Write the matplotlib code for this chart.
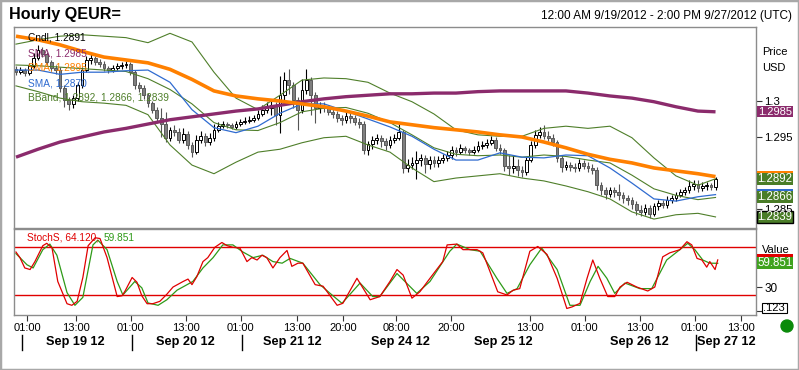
import matplotlib
matplotlib.use("Agg")
import matplotlib.pyplot as plt
import matplotlib.transforms as mtrans
from matplotlib.patches import Rectangle, Ellipse

plt.rcParams['font.family'] = ['Liberation Sans', 'DejaVu Sans']

# ---------------- data ----------------
close = [1.3040, 1.3043, 1.3039, 1.3049, 1.3060, 1.3071, 1.3065, 1.3054, 1.3046, 1.3043,
         1.3018, 1.3001, 1.2996, 1.3004, 1.3022, 1.3043, 1.3057, 1.3060, 1.3054, 1.3051,
         1.3046, 1.3043, 1.3046, 1.3049, 1.3050, 1.3051, 1.3040, 1.3022, 1.3018, 1.3008,
         1.2997, 1.2988, 1.2976, 1.2968, 1.2949, 1.2960, 1.2957, 1.2946, 1.2954, 1.2939,
         1.2929, 1.2946, 1.2951, 1.2943, 1.2949, 1.2960, 1.2965, 1.2968, 1.2967, 1.2964,
         1.2968, 1.2971, 1.2972, 1.2974, 1.2976, 1.2982, 1.2988, 1.2990, 1.2994, 1.2981,
         1.3008, 1.3029, 1.3022, 1.3001, 1.2988, 1.3015, 1.3029, 1.3008, 1.2990, 1.2993,
         1.2990, 1.2985, 1.2982, 1.2976, 1.2974, 1.2979, 1.2976, 1.2971, 1.2968, 1.2932,
         1.2940, 1.2946, 1.2949, 1.2944, 1.2939, 1.2946, 1.2949, 1.2957, 1.2907, 1.2911,
         1.2914, 1.2918, 1.2921, 1.2913, 1.2918, 1.2914, 1.2918, 1.2921, 1.2925, 1.2932,
         1.2929, 1.2935, 1.2932, 1.2929, 1.2932, 1.2938, 1.2939, 1.2942, 1.2946, 1.2935,
         1.2932, 1.2910, 1.2907, 1.2910, 1.2904, 1.2901, 1.2918, 1.2939, 1.2953, 1.2957,
         1.2951, 1.2949, 1.2943, 1.2921, 1.2908, 1.2911, 1.2908, 1.2907, 1.2914, 1.2910,
         1.2907, 1.2904, 1.2883, 1.2876, 1.2871, 1.2876, 1.2874, 1.2870, 1.2865, 1.2863,
         1.2857, 1.2849, 1.2846, 1.2851, 1.2843, 1.2854, 1.2858, 1.2856, 1.2863, 1.2865,
         1.2870, 1.2874, 1.2876, 1.2882, 1.2885, 1.2879, 1.2882, 1.2883, 1.2880, 1.2891]
first_open = 1.3045
high = [1.3049, 1.3047, 1.3046, 1.3053, 1.3066, 1.3078, 1.3075, 1.3068, 1.3057, 1.3050,
        1.3047, 1.3022, 1.3006, 1.3009, 1.3026, 1.3047, 1.3062, 1.3065, 1.3063, 1.3058,
        1.3055, 1.3049, 1.3050, 1.3053, 1.3054, 1.3056, 1.3054, 1.3043, 1.3026, 1.3022,
        1.3011, 1.3000, 1.2992, 1.2990, 1.2985, 1.2964, 1.2966, 1.2962, 1.2962, 1.2958,
        1.2943, 1.2953, 1.2958, 1.2955, 1.2955, 1.2968, 1.2971, 1.2972, 1.2971, 1.2970,
        1.2972, 1.2975, 1.2978, 1.2979, 1.2981, 1.2987, 1.2994, 1.2998, 1.3003, 1.2999,
        1.3035, 1.3040, 1.3045, 1.3026, 1.3006, 1.3030, 1.3045, 1.3033, 1.3012, 1.2999,
        1.2998, 1.2995, 1.2990, 1.2986, 1.2980, 1.2986, 1.2983, 1.2980, 1.2976, 1.2972,
        1.2945, 1.2951, 1.2954, 1.2953, 1.2948, 1.2951, 1.2954, 1.2968, 1.2960, 1.2920,
        1.2922, 1.2930, 1.2927, 1.2925, 1.2924, 1.2923, 1.2923, 1.2926, 1.2930, 1.2937,
        1.2936, 1.2940, 1.2938, 1.2935, 1.2937, 1.2945, 1.2944, 1.2947, 1.2952, 1.2950,
        1.2940, 1.2935, 1.2925, 1.2925, 1.2920, 1.2910, 1.2922, 1.2944, 1.2960, 1.2964,
        1.2966, 1.2958, 1.2954, 1.2946, 1.2925, 1.2916, 1.2915, 1.2914, 1.2919, 1.2918,
        1.2915, 1.2912, 1.2908, 1.2887, 1.2880, 1.2881, 1.2880, 1.2885, 1.2874, 1.2870,
        1.2866, 1.2861, 1.2856, 1.2857, 1.2855, 1.2859, 1.2863, 1.2862, 1.2868, 1.2870,
        1.2874, 1.2878, 1.2881, 1.2890, 1.2890, 1.2890, 1.2887, 1.2888, 1.2886, 1.2895]
low = [1.3036, 1.3037, 1.3035, 1.3036, 1.3046, 1.3057, 1.3061, 1.3050, 1.3042, 1.3038,
       1.3012, 1.2992, 1.2988, 1.2990, 1.3000, 1.3018, 1.3040, 1.3052, 1.3050, 1.3047,
       1.3042, 1.3039, 1.3040, 1.3043, 1.3045, 1.3046, 1.3036, 1.3017, 1.3013, 1.3003,
       1.2992, 1.2983, 1.2970, 1.2950, 1.2943, 1.2945, 1.2951, 1.2941, 1.2942, 1.2933,
       1.2922, 1.2926, 1.2942, 1.2938, 1.2939, 1.2945, 1.2957, 1.2962, 1.2963, 1.2961,
       1.2961, 1.2965, 1.2968, 1.2969, 1.2971, 1.2973, 1.2979, 1.2984, 1.2980, 1.2967,
       1.2956, 1.3000, 1.3010, 1.2990, 1.2960, 1.2983, 1.3010, 1.2980, 1.2970, 1.2984,
       1.2985, 1.2980, 1.2977, 1.2971, 1.2967, 1.2970, 1.2970, 1.2966, 1.2963, 1.2927,
       1.2925, 1.2934, 1.2940, 1.2936, 1.2932, 1.2935, 1.2941, 1.2946, 1.2900, 1.2902,
       1.2905, 1.2892, 1.2910, 1.2900, 1.2906, 1.2908, 1.2909, 1.2914, 1.2916, 1.2920,
       1.2924, 1.2926, 1.2928, 1.2925, 1.2926, 1.2929, 1.2933, 1.2935, 1.2939, 1.2931,
       1.2927, 1.2903, 1.2897, 1.2900, 1.2896, 1.2895, 1.2897, 1.2915, 1.2935, 1.2948,
       1.2947, 1.2944, 1.2938, 1.2915, 1.2902, 1.2904, 1.2903, 1.2902, 1.2903, 1.2905,
       1.2902, 1.2899, 1.2876, 1.2870, 1.2864, 1.2866, 1.2866, 1.2862, 1.2858, 1.2856,
       1.2850, 1.2842, 1.2840, 1.2841, 1.2838, 1.2840, 1.2849, 1.2851, 1.2852, 1.2859,
       1.2861, 1.2866, 1.2870, 1.2872, 1.2877, 1.2874, 1.2875, 1.2877, 1.2876, 1.2877]

# indicator samples (bar index)
ind_x = list(range(0, 160, 5)) + [159]
sma_purple = [1.2922, 1.2933, 1.2943, 1.2950, 1.2957, 1.2962, 1.2968, 1.2974, 1.2978, 1.2982,
              1.2986, 1.2989, 1.2994, 1.2999, 1.3003, 1.3006, 1.3008, 1.3010, 1.3010, 1.3011,
              1.3011, 1.3013, 1.3014, 1.3014, 1.3014, 1.3014, 1.3011, 1.3007, 1.3004, 1.2999,
              1.2992, 1.2986, 1.2985]
sma_orange = [1.3090, 1.3085, 1.3078, 1.3069, 1.3061, 1.3057, 1.3053, 1.3044, 1.3030, 1.3014,
              1.3007, 1.3003, 1.3000, 1.2996, 1.2992, 1.2986, 1.2979, 1.2971, 1.2967, 1.2963,
              1.2960, 1.2957, 1.2953, 1.2950, 1.2943, 1.2935, 1.2926, 1.2919, 1.2914, 1.2907,
              1.2903, 1.2899, 1.2895]
sma_blue = [1.3043, 1.3043, 1.3037, 1.3040, 1.3040, 1.3042, 1.3043, 1.3026, 1.2988, 1.2963,
            1.2956, 1.2965, 1.2983, 1.2996, 1.2996, 1.2986, 1.2975, 1.2964, 1.2951, 1.2933,
            1.2918, 1.2918, 1.2928, 1.2922, 1.2921, 1.2925, 1.2924, 1.2907, 1.2886, 1.2864,
            1.2861, 1.2867, 1.2870]
bb_upper = [1.3079, 1.3085, 1.3090, 1.3092, 1.3090, 1.3088, 1.3081, 1.3094, 1.3082, 1.3040,
            1.3004, 1.2988, 1.3008, 1.3029, 1.3032, 1.3031, 1.3026, 1.3011, 1.2999, 1.2982,
            1.2960, 1.2953, 1.2951, 1.2951, 1.2962, 1.2965, 1.2962, 1.2965, 1.2949, 1.2921,
            1.2896, 1.2883, 1.2892]
bb_middle = [1.3050, 1.3049, 1.3047, 1.3045, 1.3043, 1.3041, 1.3031, 1.3016, 1.2996, 1.2970,
             1.2960, 1.2959, 1.2970, 1.2985, 1.2990, 1.2991, 1.2983, 1.2970, 1.2953, 1.2935,
             1.2926, 1.2924, 1.2925, 1.2922, 1.2925, 1.2923, 1.2918, 1.2914, 1.2897, 1.2878,
             1.2869, 1.2863, 1.2866]
bb_lower = [1.3021, 1.3013, 1.3004, 1.2999, 1.2997, 1.2994, 1.2981, 1.2939, 1.2911, 1.2899,
            1.2915, 1.2929, 1.2933, 1.2942, 1.2949, 1.2951, 1.2939, 1.2929, 1.2907, 1.2888,
            1.2893, 1.2896, 1.2899, 1.2893, 1.2889, 1.2882, 1.2874, 1.2864, 1.2846, 1.2836,
            1.2842, 1.2844, 1.2839]

stoch_k_x = [0, 0.9, 2.0, 3.2, 4.3, 6.1, 7.0, 8.2, 9.5, 11.6, 12.7, 13.9, 15.2, 16.4, 18.0,
             19.1, 20.7, 23.0, 24.1, 24.8, 26.4, 27.5, 28.6, 29.8, 31.1, 32.7, 34.3, 35.7,
             38.0, 39.1, 40.0, 41.1, 42.5, 43.6, 45.2, 46.8, 48.0, 49.3, 50.9, 52.5, 53.6,
             54.8, 55.9, 57.0, 58.4, 60.0, 61.6, 62.7, 64.1, 65.2, 68.0, 69.8, 73.0, 74.3,
             77.5, 80.5, 82.7, 85.0, 86.6, 88.0, 90.0, 91.8, 94.1, 97.0, 98.0, 100.2, 101.6,
             104.8, 106.1, 107.7, 109.5, 111.6, 113.0, 114.5, 116.8, 118.6, 120.7, 123.0,
             125.2, 126.4, 128.2, 129.8, 131.1, 132.7, 134.5, 136.1, 137.3, 138.9, 141.1,
             143.6, 145.2, 147.0, 148.6, 150.9, 152.5, 153.6, 154.8, 155.9, 157.0, 157.7,
             158.9, 159.5]
stoch_k = [74, 67, 54, 52, 62, 82, 85, 79, 37, 9, 7, 12, 42, 82, 92, 91, 67, 18, 19, 25,
           42, 36, 19, 9, 9, 12, 21, 30, 37, 40, 33, 43, 62, 67, 80, 86, 82, 80, 79, 62,
           67, 64, 70, 67, 54, 67, 76, 56, 60, 60, 33, 31, 7, 9.5, 41, 14, 18, 37, 52, 45,
           16, 24, 41, 62, 83, 84, 77, 77, 73, 50, 24, 20, 26, 28, 75, 81, 71, 41, 3, 5,
           9.5, 41, 64, 41, 18, 18, 30, 36, 30, 25, 30, 68, 73, 77, 87, 83, 66, 64, 55, 62,
           52, 64.12]
stoch_d_x = [0, 2.5, 3.9, 6.1, 7.7, 9.3, 11.6, 13.4, 15.2, 17.5, 18.6, 20.7, 23.0, 24.3,
             27.0, 28.6, 30.0, 32.3, 34.3, 36.6, 38.9, 40.2, 42.5, 44.8, 47.0, 49.3, 51.6,
             53.9, 56.1, 58.4, 60.5, 62.3, 65.2, 69.1, 71.4, 74.1, 78.2, 81.1, 82.7, 86.6,
             88.4, 91.1, 94.1, 98.6, 100.2, 103.2, 105.5, 109.3, 111.6, 113.9, 116.8, 119.5,
             123.0, 125.9, 128.2, 130.5, 132.3, 134.3, 136.1, 138.4, 141.8, 144.5, 147.9,
             150.2, 152.7, 154.3, 156.1, 157.7, 159.5]
stoch_d = [72, 58, 54, 77, 84, 70, 23, 7, 17, 83, 89, 77, 37, 20, 37, 29, 10, 7, 14, 26,
           33, 37, 54, 67, 83, 83, 74, 67, 70, 62, 60, 66, 60, 33, 22, 9.5, 35, 18, 18, 47,
           37, 22, 37, 75, 84, 77, 75, 41, 22, 28, 58, 79, 52, 7, 7, 37, 56, 41, 22, 35,
           28, 28, 64, 74, 85, 77, 64, 60, 59.851]

time_tick_pos = [2.5, 13.6, 26.1, 38.6, 51.1, 63.9, 74.3, 86.4, 98.9, 116.8, 129.3, 141.8, 154.3, 164.8]
time_tick_labels = ["01:00", "13:00", "01:00", "13:00", "01:00", "13:00", "20:00",
                    "08:00", "20:00", "13:00", "01:00", "13:00", "01:00", "13:00"]
date_pos = [13.4, 38.4, 62.7, 87.3, 110.7, 141.6, 161.4]
date_labels = ["Sep 19 12", "Sep 20 12", "Sep 21 12", "Sep 24 12", "Sep 25 12", "Sep 26 12", "Sep 27 12"]
day_sep_pos = [1.3, 26.3, 51.3, 154.5]
price_ticks = [1.285, 1.29, 1.295, 1.3]
price_tick_labels = ["1.285", "", "1.295", "1.3"]

# ---------------- colours ----------------
C_PURPLE = "#8B2B6C"
C_ORANGE = "#FF8000"
C_BLUE = "#2F6BD0"
C_BB = "#4F7F2A"
C_BOXGREEN = "#4A7D28"
C_RED = "#E00000"
C_SGREEN = "#2E9A18"
C_SPINE = "#8C8C8C"

W, H = 799, 370
fig = plt.figure(figsize=(W / 100, H / 100), dpi=100)
fig.patch.set_facecolor("white")


def T(px, py, s, **kw):
    return fig.text(px / W, 1 - py / H, s, **kw)


ax = fig.add_axes([14 / W, 1 - 228 / H, (756 - 14) / W, (228 - 27) / H])
ax2 = fig.add_axes([14 / W, 1 - 315 / H, (756 - 14) / W, (315 - 229) / H])

XL = (-0.45, 168.2)

# ---- candles ----
opens = [first_open] + close[:-1]
xs = list(range(len(close)))
for i in xs:
    o, c, h, l = opens[i], close[i], high[i], low[i]
    up = c >= o
    wick_col = "#000000" if up else "#555555"
    ax.vlines(i, l, h, colors=wick_col, lw=0.8, zorder=2)
    bot = min(o, c)
    hgt = max(abs(c - o), 0.00006)
    ax.bar(i, hgt, bottom=bot, width=0.62,
           color="white" if up else "#7F7F7F",
           edgecolor="#000000" if up else "#5A5A5A", linewidth=0.7, zorder=3)

# ---- indicators ----
ax.plot(ind_x, bb_upper, color=C_BB, lw=0.8, zorder=4)
ax.plot(ind_x, bb_middle, color=C_BB, lw=0.8, zorder=4)
ax.plot(ind_x, bb_lower, color=C_BB, lw=0.8, zorder=4)
ax.plot(ind_x, sma_blue, color=C_BLUE, lw=0.9, zorder=4)
ax.plot(ind_x, sma_purple, color=C_PURPLE, lw=2.4, zorder=5, solid_capstyle="butt")
ax.plot(ind_x, sma_orange, color=C_ORANGE, lw=2.6, zorder=5, solid_capstyle="butt")

ax.set_xlim(*XL)
ax.set_ylim(1.282361, 1.310278)
ax.set_xticks([])
ax.yaxis.tick_right()
ax.set_yticks(price_ticks)
ax.set_yticklabels(price_tick_labels)
ax.tick_params(axis="y", length=4, width=0.8, color="#333333", labelsize=8.2, pad=2)
for sp in ax.spines.values():
    sp.set_color(C_SPINE)
    sp.set_linewidth(1)

# ---- stochastic ----
ax2.axhline(80, color=C_RED, lw=1)
ax2.axhline(20, color=C_RED, lw=1)
ax2.plot(stoch_d_x, stoch_d, color=C_SGREEN, lw=0.9, zorder=3)
ax2.plot(stoch_k_x, stoch_k, color=C_RED, lw=0.9, zorder=4)
ax2.set_xlim(*XL)
ax2.set_ylim(-5.2, 103)
ax2.yaxis.tick_right()
ax2.set_yticks([0, 30])
ax2.set_yticklabels(["", "30"])
ax2.tick_params(axis="y", length=4, width=0.8, color="#333333", labelsize=8.5, pad=2)
ax2.set_xticks(time_tick_pos)
ax2.set_xticklabels(time_tick_labels)
ax2.tick_params(axis="x", length=4, width=0.8, color="#333333", labelsize=8, pad=2)
for sp in ax2.spines.values():
    sp.set_color(C_SPINE)
    sp.set_linewidth(1)

# date labels and day separators
bt = mtrans.blended_transform_factory(ax2.transData, fig.transFigure)
for p, s in zip(date_pos, date_labels):
    ax2.text(p, 1 - 342 / H, s, transform=bt, ha="center", va="center",
             fontsize=9.2, fontweight="bold", clip_on=False)
for p in day_sep_pos:
    ax2.plot([p, p], [1 - 335 / H, 1 - 350 / H], transform=bt, color="black",
             lw=1, clip_on=False)

# ---- value boxes on the right ----
def vbox(axis, v, txt, fc, tc="white", ec=None, z=5, h=12, fs=8.3):
    yd = axis.transData.transform((0, v))[1]
    r = Rectangle((757, yd - h / 2), 36, h, transform=mtrans.IdentityTransform(),
                  facecolor=fc, edgecolor=ec if ec else fc, lw=1 if ec else 0, zorder=z)
    fig.add_artist(r)
    if txt:
        fig.text(775 / W, yd / H, txt, ha="center", va="center", color=tc,
                 fontsize=fs, zorder=z + 0.5)


vbox(ax, 1.2985, "1.2985", C_PURPLE, h=11, fs=8)
vbox(ax, 1.2895, "", C_ORANGE, z=5)
vbox(ax, 1.2892, "1.2892", C_BOXGREEN, z=6)
vbox(ax, 1.2870, "", C_BLUE, z=7)
vbox(ax, 1.2866, "1.2866", C_BOXGREEN, z=8)
vbox(ax, 1.2839, "1.2839", C_BOXGREEN, ec="#000000", z=9)

vbox(ax2, 64.12, "", C_RED, z=5)
vbox(ax2, 59.851, "59.851", "#3FA21E", z=6)
r = Rectangle((762, H - 313), 25, 10, transform=mtrans.IdentityTransform(),
              facecolor="white", edgecolor="black", lw=0.8, zorder=6)
fig.add_artist(r)
T(774, 308, ".123", ha="center", va="center", fontsize=8, zorder=7)

T(762, 52, "Price", fontsize=8, va="center")
T(762, 68, "USD", fontsize=8, va="center")
T(762, 250, "Value", fontsize=8, va="center", zorder=4)

fig.add_artist(Ellipse((787 / W, 1 - 326 / H), 12 / W, 12 / H,
                       transform=fig.transFigure, color="#0A8A0A"))

# ---- texts ----
T(9, 14, "Hourly QEUR=", fontsize=11.6, fontweight="bold", va="center")
T(792, 16, "12:00 AM 9/19/2012 - 2:00 PM 9/27/2012 (UTC)", fontsize=8.5,
  ha="right", va="center")

leg = [("Cndl, 1.2891", "#000000", 38),
       ("SMA, 1.2985", C_PURPLE, 53),
       ("SMA, 1.2895", C_ORANGE, 68),
       ("SMA, 1.2870", C_BLUE, 83),
       ("BBand, 1.2892, 1.2866, 1.2839", C_BB, 98)]
for s, c, y in leg:
    T(28, y, s, color=c, fontsize=7.3, va="center", zorder=10)

T(27, 238, "StochS, 64.120,", color=C_RED, fontsize=7.3, va="center")
T(104, 238, "59.851", color=C_SGREEN, fontsize=7.3, va="center")

# outer frame
fig.add_artist(Rectangle((0, 0), 1, 1, transform=fig.transFigure, fill=False,
                         edgecolor="#A8A8A8", lw=2.5))

fig.savefig("out.png", dpi=100)
